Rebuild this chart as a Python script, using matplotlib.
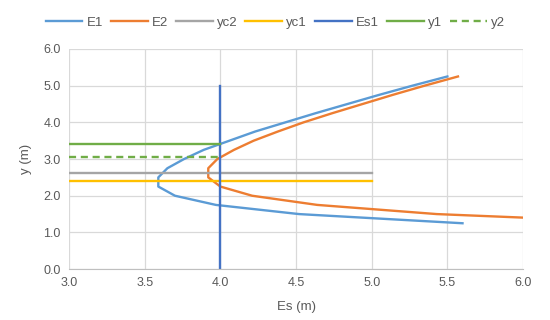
import numpy as np
import matplotlib.pyplot as plt

# specific energy curves
y_pts = [1.25, 1.5, 1.75, 2.0, 2.25, 2.5, 2.75, 3.0, 3.25, 3.5, 3.75, 4.0, 4.25, 4.5, 4.75, 5.0, 5.25]
E1 = [5.60, 4.52, 3.97, 3.70, 3.59, 3.59, 3.65, 3.76, 3.89, 4.06, 4.23, 4.43, 4.63, 4.84, 5.05, 5.27, 5.50]
E2 = [6.91, 5.43, 4.64, 4.21, 4.00, 3.92, 3.92, 3.98, 4.09, 4.22, 4.38, 4.55, 4.74, 4.94, 5.14, 5.35, 5.57]

yc2_x = [3.0, 5.0]; yc2_y = [2.61, 2.61]
yc1_x = [3.0, 5.0]; yc1_y = [2.39, 2.39]
Es1_x = [4.0, 4.0]; Es1_y = [0.0, 5.0]
y1_x = [3.0, 4.0]; y1_y = [3.42, 3.42]
y2_x = [3.0, 4.0]; y2_y = [3.05, 3.05]

plt.rcParams['font.family'] = ['Liberation Sans', 'DejaVu Sans']
txt = '#595959'

fig = plt.figure(figsize=(5.5, 3.2), dpi=100)
ax = fig.add_axes([0.1255, 0.159, 0.8255, 0.688])

lw = 1.7
ax.plot(E1, y_pts, color='#5B9BD5', lw=lw, label='E1')
ax.plot(E2, y_pts, color='#ED7D31', lw=lw, label='E2')
ax.plot(yc2_x, yc2_y, color='#A5A5A5', lw=lw, label='yc2')
ax.plot(yc1_x, yc1_y, color='#FFC000', lw=lw, label='yc1')
ax.plot(Es1_x, Es1_y, color='#4472C4', lw=lw, label='Es1')
ax.plot(y1_x, y1_y, color='#70AD47', lw=lw, label='y1')
ax.plot(y2_x, y2_y, color='#70AD47', lw=lw, ls=(0, (3, 2)), label='y2')

ax.set_xlim(3.0, 6.0)
ax.set_ylim(0.0, 6.0)
ax.set_xticks(np.arange(3.0, 6.01, 0.5))
ax.set_yticks(np.arange(0.0, 6.01, 1.0))
ax.set_xticklabels(['%.1f' % v for v in np.arange(3.0, 6.01, 0.5)])
ax.set_yticklabels(['%.1f' % v for v in np.arange(0.0, 6.01, 1.0)])
ax.grid(True, color='#D9D9D9', lw=0.9)
ax.set_axisbelow(True)
for s in ax.spines.values():
	s.set_visible(False)
ax.spines['bottom'].set_visible(True)
ax.spines['bottom'].set_color('#BFBFBF')
ax.tick_params(length=0, labelsize=9, colors=txt, pad=6)
ax.set_xlabel('Es (m)', fontsize=9.5, color=txt, labelpad=8)
ax.set_ylabel('y (m)', fontsize=9.5, color=txt, labelpad=8)

fig.legend(loc='upper center', bbox_to_anchor=(0.5, 0.985), ncol=7, frameon=False,
           fontsize=9.5, labelcolor=txt, handlelength=2.8, columnspacing=0.6, handletextpad=0.3)

fig.savefig('out.png', dpi=100)
